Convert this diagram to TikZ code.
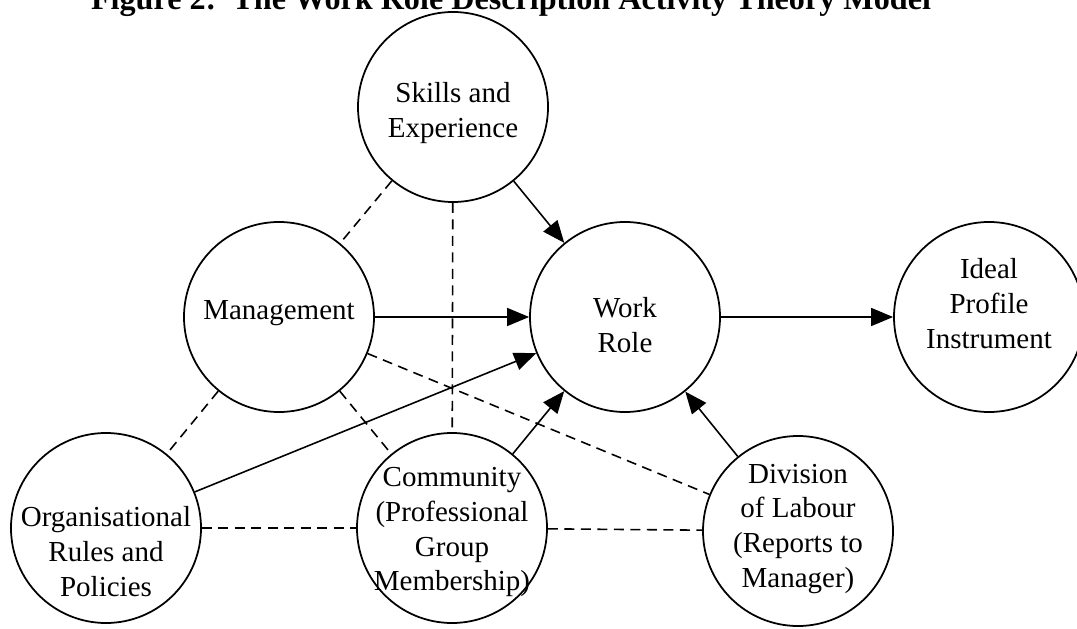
\documentclass[tikz,border=0pt]{standalone}
\usepackage{fontspec}
\setmainfont{Liberation Serif}
\usetikzlibrary{arrows.meta}

\begin{document}
\begin{tikzpicture}[x=0.2mm, y=-0.2mm,
        role/.style={draw, circle, minimum size=38mm, inner sep=0pt, line width=1pt},
        txt/.style={align=center, font=\fontsize{16.5}{19.9}\selectfont},
        link/.style={line width=0.9pt, dash pattern=on 2mm off 1.3mm},
        flow/.style={line width=0.9pt, -{Triangle[length=4.4mm, width=3.6mm]}}]
        \useasboundingbox (0,0) rectangle (1077,629);

        \node[anchor=base, font=\fontsize{18.3}{22}\selectfont\bfseries] (T0) at (511,10)
            {Figure 2:\ \ The Work Role Description Activity Theory Model};

        \node[role, label={[txt, yshift=-1.2mm]center:Skills and\\Experience}]                   (SE) at (453,107) {};
        \node[role, label={[txt, yshift=0.8mm]center:Management}]                                (MG) at (279,317) {};
        \node[role, label={[txt, yshift=-1.6mm]center:Work\\Role}]                               (WR) at (625,317) {};
        \node[role, label={[txt, yshift=2.6mm]center:Ideal\\Profile\\Instrument}]                (IP) at (989,317) {};
        \node[role, label={[txt, yshift=-4.8mm]center:Organisational\\Rules and\\Policies}]      (OR) at (106,528) {};
        \node[role, label={[txt, yshift=-0.8mm]center:Community\\(Professional\\Group\\Membership)}] (CM) at (452,528) {};
        \node[role, label={[txt, yshift=0.4mm]center:Division\\of Labour\\(Reports to\\Manager)}] (DL) at (798,531) {};

        \draw[flow] (SE) -- (WR);
        \draw[flow] (MG) -- (WR);
        \draw[flow] (OR) -- (WR);
        \draw[flow] (CM) -- (WR);
        \draw[flow] (DL) -- (WR);
        \draw[flow] (WR) -- (IP);

        \draw[link] (SE) -- (MG);
        \draw[link] (SE) -- (CM);
        \draw[link] (MG) -- (OR);
        \draw[link] (MG) -- (CM);
        \draw[link] (MG) -- (DL);
        \draw[link] (OR) -- (CM);
        \draw[link] (CM) -- (DL);
      \end{tikzpicture}
\end{document}
